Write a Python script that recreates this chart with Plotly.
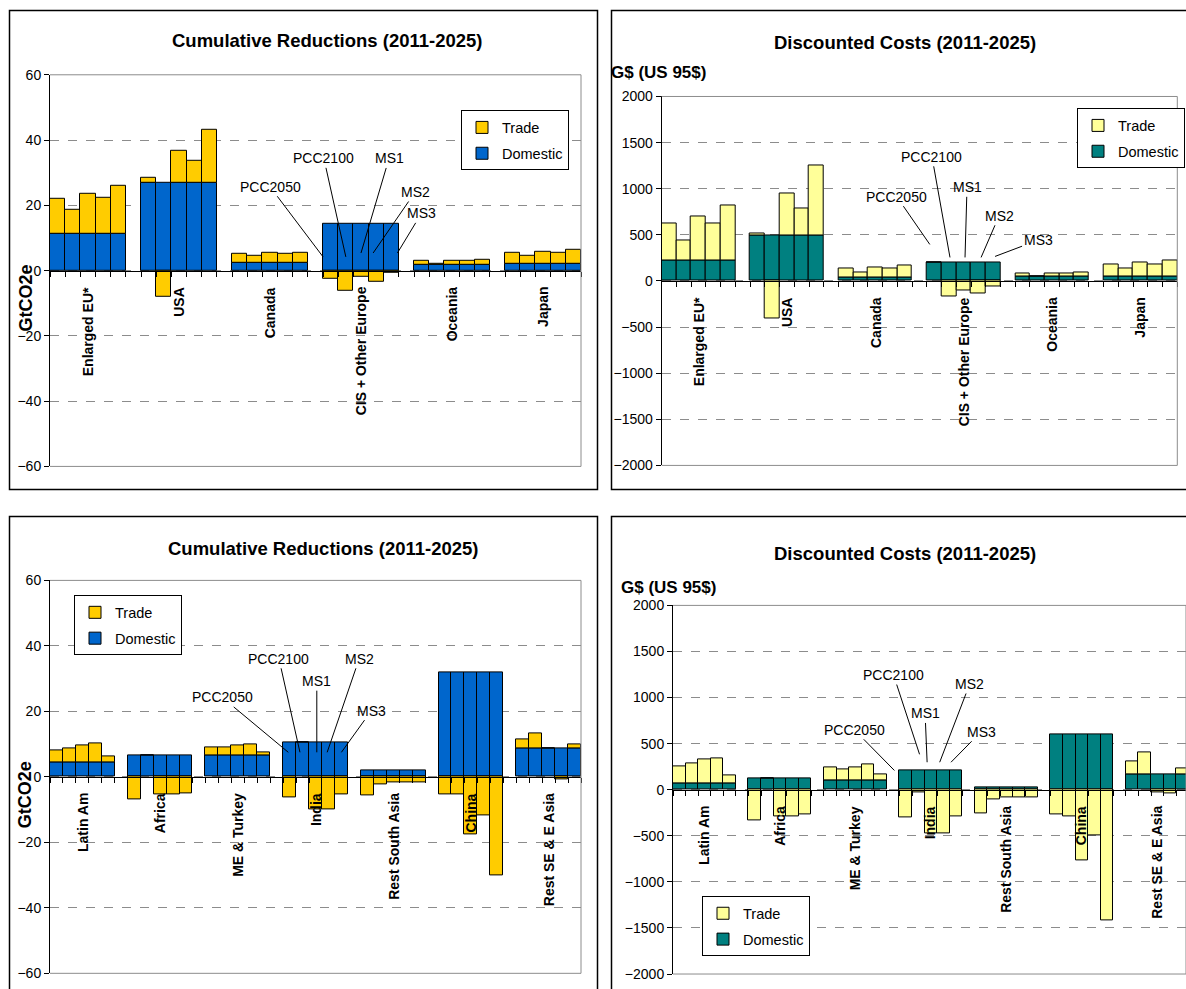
import plotly.graph_objects as go

W, H = 1186, 989

scenarios = ["PCC2050", "PCC2100", "MS1", "MS2", "MS3"]
regions_top = ["Enlarged EU*", "USA", "Canada", "CIS + Other Europe", "Oceania", "Japan"]
regions_bottom = ["Latin Am", "Africa", "ME & Turkey", "India", "Rest South Asia",
                  "China", "Rest SE & E Asia"]

# cumulative reductions 2011-2025 (GtCO2e), domestic per region, trade per region x scenario
red_top_domestic = [11.4, 26.9, 2.5, 14.2, 1.9, 2.0]
red_top_trade = [
    [10.5, 7.1, 12.1, 10.9, 14.5],
    [1.4, -7.9, 9.7, 6.7, 16.3],
    [2.6, 2.0, 3.1, 2.6, 3.1],
    [-2.5, -6.2, -2.0, -3.4, -0.8],
    [1.0, 0.2, 1.0, 1.0, 1.5],
    [3.5, 2.6, 3.9, 3.5, 4.3],
]
red_bottom_domestic = [4.4, 6.5, 6.5, 10.4, 2.0, 32.0, 8.6]
red_bottom_trade = [
    [3.6, 4.4, 5.3, 5.7, 1.8],
    [-6.8, 0.0, -5.5, -5.5, -5.0],
    [2.5, 2.5, 3.0, 3.5, 0.9],
    [-6.3, 0.0, -9.8, -9.8, -5.5],
    [-5.6, -2.2, -1.7, -1.7, -1.7],
    [-5.4, -5.4, -17.6, -11.8, -30.1],
    [2.9, 4.6, 0.0, -0.7, 1.3],
]

# discounted costs 2011-2025 (G$ US 95$)
cost_top_domestic = [219, 489, 43, 205, 47, 47]
cost_top_trade = [
    [403, 223, 479, 403, 597],
    [29, -403, 461, 299, 759],
    [87, 54, 104, 87, 124],
    [0, -165, -101, -133, -61],
    [32, 0, 32, 32, 47],
    [129, 86, 154, 129, 176],
]
cost_bottom_domestic = [72, 119, 101, 210, 29, 597, 166]
cost_bottom_trade = [
    [181, 210, 257, 272, 80],
    [-333, 0, -286, -286, -268],
    [138, 120, 138, 170, 62],
    [-304, -25, -478, -478, -290],
    [-253, -105, -87, -87, -87],
    [-272, -286, -767, -500, -1418],
    [145, 236, -25, -43, 69],
]

# scenario callouts: (text, bar position, value, text offset px)
callouts_tl = [("PCC2050", 17.5, 4.2, -53, -69), ("PCC2100", 19.0, 4.2, -22, -97),
               ("MS1", 20.0, 5.4, 28, -93), ("MS2", 20.8, 5.4, 42, -60),
               ("MS3", 22.4, 5.4, 24, -39)]
callouts_tr = [("PCC2050", 17.7, 396, -33, -47), ("PCC2100", 19.07, 255, -18, -99),
               ("MS1", 20.09, 255, 2, -69), ("MS2", 21.18, 255, 18, -41),
               ("MS3", 22.13, 266, 43, -16)]
callouts_bl = [("PCC2050", 17.9, 7.5, -66, -54), ("PCC2100", 18.8, 7.5, -21, -92),
               ("MS1", 20.1, 7.5, 0, -70), ("MS2", 20.9, 7.5, 32, -92),
               ("MS3", 22.0, 7.5, 30, -41)]
callouts_br = [("PCC2050", 17.1, 209, -40, -40), ("PCC2100", 19.1, 384, -26, -78),
               ("MS1", 19.7, 298, -2, -48), ("MS2", 20.7, 298, 30, -77),
               ("MS3", 21.6, 298, 30, -30)]

FONT = "Liberation Sans, Arial, sans-serif"

# the captured page comes out slightly squeezed vertically; place things so they land
# where they sit in the reference picture
SQ, OFF = 0.984, 7.5


def fx(px):
    return px / W


def fy(py):
    return 1 - ((py - OFF) / SQ) / H


panels = [
    dict(n=1, regions=regions_top, dom=red_top_domestic, trade=red_top_trade,
         colors=("#0066CC", "#FFCC00"), rng=60, dtick=20,
         xpx=(50, 581), ypx=(74.3, 466), xmax=34.5,
         title="Cumulative Reductions (2011-2025)", tpos=(327, 40),
         ylab="GtCO2e", ylpos=(26, 298), rot=True,
         legend=dict(x=569, y=110, xanchor="right"),
         callouts=callouts_tl, frame=(9.5, 597.5, 10, 489)),
    dict(n=2, regions=regions_top, dom=cost_top_domestic, trade=cost_top_trade,
         colors=("#008080", "#FFFF99"), rng=2000, dtick=500,
         xpx=(661.7, 1177.3), ypx=(96, 465), xmax=34.5,
         title="Discounted Costs (2011-2025)", tpos=(905, 42),
         ylab="G$ (US 95$)", ylpos=(658, 72), rot=False,
         legend=dict(x=1185, y=108, xanchor="right"),
         callouts=callouts_tr, frame=(611.5, 1250, 10, 489)),
    dict(n=3, regions=regions_bottom, dom=red_bottom_domestic, trade=red_bottom_trade,
         colors=("#0066CC", "#FFCC00"), rng=60, dtick=20,
         xpx=(50, 581), ypx=(580, 973), xmax=40.5,
         title="Cumulative Reductions (2011-2025)", tpos=(323, 548),
         ylab="GtCO2e", ylpos=(25, 795), rot=True,
         legend=dict(x=74, y=595, xanchor="left"),
         callouts=callouts_bl, frame=(9.5, 597.5, 516, 1100)),
    dict(n=4, regions=regions_bottom, dom=cost_bottom_domestic, trade=cost_bottom_trade,
         colors=("#008080", "#FFFF99"), rng=2000, dtick=500,
         xpx=(673, 1186), ypx=(605, 973.7), xmax=40.28,
         title="Discounted Costs (2011-2025)", tpos=(905, 553),
         ylab="G$ (US 95$)", ylpos=(668, 587), rot=False,
         legend=dict(x=702, y=896, xanchor="left"),
         callouts=callouts_br, frame=(611.5, 1250, 516, 1100)),
]

fig = go.Figure()
layout = dict(width=W, height=H, margin=dict(l=0, r=0, t=0, b=0),
              plot_bgcolor="white", paper_bgcolor="white", barmode="relative",
              bargap=0, font=dict(family=FONT, size=14, color="black"),
              showlegend=True)
annotations = []
shapes = []

for p in panels:
    n = p["n"]
    sfx = "" if n == 1 else str(n)
    xa, ya = "x" + sfx, "y" + sfx
    leg = "legend" + sfx
    nreg = len(p["regions"])
    xs, dom, trd = [], [], []
    for g in range(nreg):
        for s in range(len(scenarios)):
            xs.append(g * 6 + s)
            dom.append(p["dom"][g])
            trd.append(p["trade"][g][s])

    fig.add_trace(go.Bar(x=xs, y=dom, name="Domestic", width=1, xaxis=xa, yaxis=ya,
                         marker=dict(color=p["colors"][0], line=dict(color="black", width=1)),
                         legend=leg, legendgroup="d" + sfx, legendrank=2))
    fig.add_trace(go.Bar(x=xs, y=trd, name="Trade", width=1, xaxis=xa, yaxis=ya,
                         marker=dict(color=p["colors"][1], line=dict(color="black", width=1)),
                         legend=leg, legendgroup="t" + sfx, legendrank=1))

    x0, x1 = fx(p["xpx"][0]), fx(p["xpx"][1])
    ytop, ybot = fy(p["ypx"][0]), fy(p["ypx"][1])
    nslots = nreg * 6 - 1
    layout["xaxis" + sfx] = dict(
        domain=[x0, x1], range=[-0.5, p["xmax"]], anchor="free",
        position=(ytop + ybot) / 2, showgrid=False, zeroline=False,
        showline=True, linecolor="black", linewidth=1,
        tickvals=[k - 0.5 for k in range(nslots + 1)], ticks="outside",
        ticklen=5, tickcolor="black", showticklabels=False, fixedrange=True)
    layout["yaxis" + sfx] = dict(
        domain=[ybot, ytop], range=[-p["rng"], p["rng"]], dtick=p["dtick"],
        anchor=xa, showline=True, linecolor="black", linewidth=1,
        ticks="outside", ticklen=5, tickcolor="black",
        showgrid=True, gridcolor="#8c8c8c", griddash="dash", gridwidth=1,
        zeroline=False, tickfont=dict(size=14), fixedrange=True)

    lg = p["legend"]
    layout[leg] = dict(x=fx(lg["x"]), y=fy(lg["y"]), xanchor=lg["xanchor"],
                       yanchor="top", bgcolor="white", bordercolor="black",
                       borderwidth=1, font=dict(size=14.5), tracegroupgap=4,
                       itemwidth=30)

    # plot-area frame (grey)
    xd, yd = xa + " domain", ya + " domain"
    shapes.append(dict(type="line", xref=xd, yref=yd, x0=0, x1=1, y0=1, y1=1,
                       line=dict(color="#8c8c8c", width=1)))
    shapes.append(dict(type="line", xref=xd, yref=yd, x0=0, x1=1, y0=0, y1=0,
                       line=dict(color="#8c8c8c", width=1)))
    shapes.append(dict(type="line", xref=xd, yref=yd, x0=1, x1=1, y0=0, y1=1,
                       line=dict(color="#8c8c8c", width=1)))
    # panel border
    fx0, fx1, fy0, fy1 = p["frame"]
    shapes.append(dict(type="rect", xref="paper", yref="paper",
                       x0=fx(fx0), x1=fx(fx1), y0=fy(fy1), y1=fy(fy0),
                       line=dict(color="black", width=1.5)))

    # region labels under the zero line
    for g, name in enumerate(p["regions"]):
        annotations.append(dict(x=g * 6 + 2, y=0, xref=xa, yref=ya, text="<b>%s</b>" % name,
                                textangle=-90, showarrow=False, xanchor="center",
                                yanchor="top", yshift=-14 / SQ, font=dict(size=14)))

    # scenario callouts
    for txt, cx, cy, ax, ay in p["callouts"]:
        annotations.append(dict(x=cx, y=cy, xref=xa, yref=ya, text=txt, showarrow=True,
                                arrowhead=0, arrowwidth=1, arrowcolor="black",
                                ax=ax, ay=ay / SQ, font=dict(size=14)))

    # titles
    annotations.append(dict(x=fx(p["tpos"][0]), y=fy(p["tpos"][1]), xref="paper",
                            yref="paper", text="<b>%s</b>" % p["title"], showarrow=False,
                            xanchor="center", yanchor="middle", font=dict(size=18.5)))
    annotations.append(dict(x=fx(p["ylpos"][0]), y=fy(p["ylpos"][1]), xref="paper",
                            yref="paper", text="<b>%s</b>" % p["ylab"], showarrow=False,
                            xanchor="center", yanchor="middle",
                            textangle=-90 if p["rot"] else 0,
                            font=dict(size=18 if p["rot"] else 17)))

layout["annotations"] = annotations
layout["shapes"] = shapes
fig.update_layout(**layout)

# pin the plot to the page corner so the page is exactly the figure size
pin = ("document.body.style.margin='0';"
       "document.body.style.overflow='hidden';"
       "var d=document.getElementsByClassName('plotly-graph-div')[0];"
       "d.style.position='absolute';d.style.top='0px';d.style.left='0px';")
fig.write_html("out.html", config=dict(displayModeBar=False), post_script=pin)
